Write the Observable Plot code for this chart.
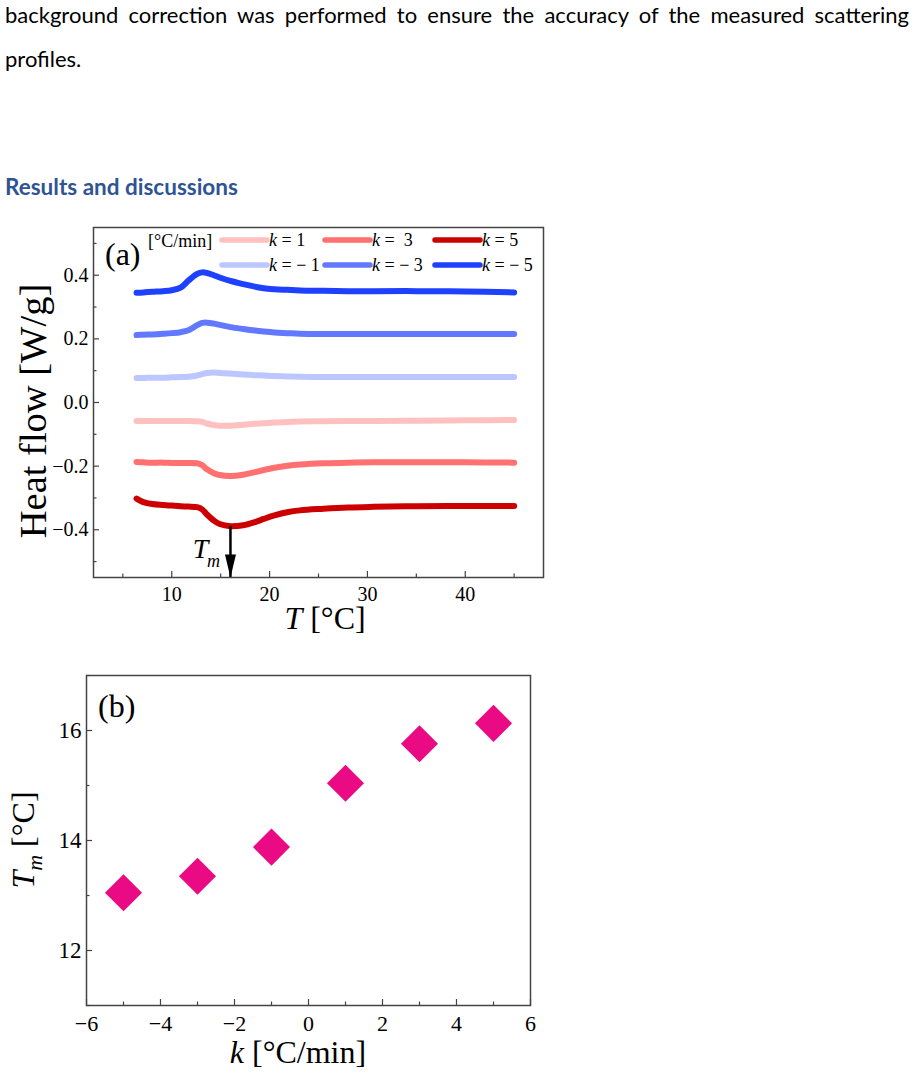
<!DOCTYPE html>
<html><head><meta charset="utf-8">
<script src="https://cdn.jsdelivr.net/npm/d3@7"></script>
<script src="https://cdn.jsdelivr.net/npm/@observablehq/plot@0.6"></script>
<style>
html,body{margin:0;padding:0;background:#fff;}
#page{position:relative;width:914px;height:1077px;overflow:hidden;}
.para{position:absolute;left:5px;width:904px;font-family:Lato,sans-serif;font-size:22px;color:#000;line-height:26px;}
#l1{top:2px;text-align:justify;text-align-last:justify;}
#l2{top:46px;}
#h{position:absolute;left:5px;top:174px;font-family:Lato,sans-serif;font-weight:bold;font-size:22.5px;color:#2F5496;line-height:26px;}
#ca{position:absolute;left:0;top:220px;}
#cb{position:absolute;left:0;top:660px;}
svg text{font-family:'Liberation Serif',serif;}
</style></head><body>
<div id="page">
<div class="para" id="l1">background correction was performed to ensure the accuracy of the measured scattering</div>
<div class="para" id="l2">profiles.</div>
<div id="h">Results and discussions</div>
<div id="ca"></div><div id="cb"></div>
</div>
<script>
// ---------- data: panel (a) ----------
const temps = [6.4, 7.1, 8.0, 9.1, 10.0, 10.9, 11.7, 12.6, 13.1, 13.6, 14.3, 14.9, 16.0, 17.3, 18.5, 19.4, 20.5, 21.8, 23.1, 25.5, 28.0, 30.6, 35.0, 40.0, 45.0];
const rates = [1, 3, 5, -1, -3, -5];
const rateSuffix = [" = 1", " =\u00a0 3", " = 5", " = \u2212 1", " = \u2212 3", " = \u2212 5"];
const rateColors = ["#ffc0c0", "#ff7070", "#cc0000", "#bcc6ff", "#6178ff", "#1e40ff"];
const hfK1  = [-0.058,-0.058,-0.058,-0.058,-0.058,-0.058,-0.058,-0.059,-0.061,-0.066,-0.071,-0.073,-0.073,-0.070,-0.067,-0.065,-0.063,-0.061,-0.060,-0.059,-0.058,-0.058,-0.057,-0.056,-0.055];
const hfK3  = [-0.187,-0.188,-0.189,-0.189,-0.190,-0.190,-0.190,-0.191,-0.197,-0.210,-0.222,-0.228,-0.231,-0.227,-0.219,-0.212,-0.205,-0.199,-0.195,-0.191,-0.189,-0.188,-0.188,-0.188,-0.189];
const hfK5  = [-0.302,-0.313,-0.319,-0.322,-0.324,-0.326,-0.327,-0.329,-0.336,-0.352,-0.371,-0.382,-0.389,-0.386,-0.376,-0.366,-0.355,-0.345,-0.339,-0.334,-0.330,-0.328,-0.326,-0.325,-0.325];
const hfKm1 = [0.077,0.077,0.078,0.078,0.079,0.080,0.081,0.085,0.089,0.093,0.094,0.093,0.091,0.088,0.086,0.085,0.083,0.082,0.081,0.080,0.080,0.080,0.080,0.080,0.080];
const hfKm3 = [0.212,0.213,0.214,0.216,0.218,0.221,0.227,0.243,0.250,0.251,0.248,0.244,0.237,0.231,0.226,0.223,0.220,0.218,0.216,0.215,0.215,0.215,0.215,0.215,0.215];
const hfKm5 = [0.345,0.346,0.348,0.350,0.353,0.361,0.383,0.404,0.409,0.407,0.400,0.393,0.382,0.372,0.364,0.359,0.356,0.354,0.352,0.351,0.350,0.350,0.350,0.349,0.346];
const heatFlow = [hfK1, hfK3, hfK5, hfKm1, hfKm3, hfKm5];
const tmArrow = [{T: 16, from: -0.39, to: -0.55}];
const xTicksA = [10, 20, 30, 40];
const xMinorA = [5, 15, 25, 35, 45];
const yTicksA = [-0.4, -0.2, 0.0, 0.2, 0.4];
const yMinorA = [-0.5, -0.3, -0.1, 0.1, 0.3, 0.5];

// ---------- data: panel (b) ----------
const kRates = [-5, -3, -1, 1, 3, 5];
const tmValues = [13.05, 13.35, 13.88, 15.04, 15.76, 16.13];
const xTicksB = [-6, -4, -2, 0, 2, 4, 6];
const xMinorB = [-5, -3, -1, 1, 3, 5];
const yTicksB = [12, 14, 16];
const yMinorB = [11, 13, 15, 17];

const frameColor = "#444";
const rows = [];
rates.forEach((k, i) => temps.forEach((T, j) => rows.push({k, T, v: heatFlow[i][j]})));

const arrowhead = {draw(ctx) { ctx.moveTo(0, 0); ctx.lineTo(-5.5, -23); ctx.lineTo(5.5, -23); ctx.closePath(); }};

// inward ticks drawn as short rules at the frame edge, labels from label-only axes
function xAxes(major, minor, frameH, fontSize, pad, fmt) {
  return [
    Plot.ruleX(major, {x: d => d, stroke: frameColor, strokeWidth: 1.2, insetTop: frameH - 6}),
    Plot.ruleX(minor, {x: d => d, stroke: frameColor, strokeWidth: 1.2, insetTop: frameH - 3.5}),
    Plot.axisX(major, {tickSize: 0, tickPadding: pad, fontSize, label: null, tickFormat: fmt})
  ];
}
function yAxes(major, minor, frameW, fontSize, pad, fmt) {
  return [
    Plot.ruleY(major, {y: d => d, stroke: frameColor, strokeWidth: 1.2, insetRight: frameW - 6}),
    Plot.ruleY(minor, {y: d => d, stroke: frameColor, strokeWidth: 1.2, insetRight: frameW - 3.5}),
    Plot.axisY(major, {tickSize: 0, tickPadding: pad, fontSize, label: null, tickFormat: fmt})
  ];
}

const A = {width: 560, height: 420, marginTop: 7, marginLeft: 93, marginRight: 17, marginBottom: 63};
const plotA = Plot.plot({
  ...A,
  x: {domain: [2, 48]}, y: {domain: [-0.55, 0.55]},
  color: {type: "ordinal", domain: rates, range: rateColors},
  style: {fontFamily: "'Liberation Serif', serif", fontSize: "20px", color: "#000", background: "transparent", overflow: "visible"},
  marks: [
    ...xAxes(xTicksA, xMinorA, A.height - A.marginTop - A.marginBottom, 20, 9, d3.format("d")),
    ...yAxes(yTicksA, yMinorA, A.width - A.marginLeft - A.marginRight, 20, 5, d3.format(".1f")),
    Plot.line(rows, {x: "T", y: "v", z: "k", stroke: "k", strokeWidth: 6, curve: "catmull-rom", strokeLinecap: "round", strokeLinejoin: "round"}),
    Plot.ruleX(tmArrow, {x: "T", y1: "from", y2: "to", stroke: "#000", strokeWidth: 2.5}),
    Plot.dot(tmArrow, {x: "T", y: "to", symbol: arrowhead, fill: "#000", r: 5}),
    Plot.text(tmArrow, {x: "T", y: "to", text: () => "T", fontStyle: "italic", fontSize: 28, lineAnchor: "bottom", textAnchor: "middle", dx: -30, dy: -20}),
    Plot.text(tmArrow, {x: "T", y: "to", text: () => "m", fontStyle: "italic", fontSize: 18, lineAnchor: "bottom", textAnchor: "middle", dx: -17, dy: -11}),
    Plot.frame({stroke: frameColor, strokeWidth: 1.5})
  ]
});
const svgA = d3.select(plotA);
svgA.append("text").attr("transform", "translate(46,191) rotate(-90)").attr("text-anchor", "middle").attr("font-size", 38.5).attr("fill", "#000").text("Heat flow [W/g]");
const tA = svgA.append("text").attr("x", 325).attr("y", 409).attr("text-anchor", "middle").attr("font-size", 32).attr("fill", "#000");
tA.append("tspan").attr("font-style", "italic").text("T");
tA.append("tspan").text(" [\u00b0C]");
svgA.append("text").attr("x", 105).attr("y", 45).attr("text-anchor", "start").attr("font-size", 32).attr("fill", "#000").text("(a)");
svgA.append("text").attr("x", 148).attr("y", 27).attr("text-anchor", "start").attr("font-size", 18).attr("fill", "#000").text("[\u00b0C/min]");
const colX = [222, 325, 435], rowY = [20, 45];
rates.forEach((k, i) => {
  const x = colX[i % 3], y = rowY[Math.floor(i / 3)];
  svgA.append("line").attr("x1", x).attr("x2", x + 45).attr("y1", y).attr("y2", y)
    .attr("stroke", rateColors[i]).attr("stroke-width", 5.5).attr("stroke-linecap", "round");
  const t = svgA.append("text").attr("x", x + 47).attr("y", y + 6).attr("text-anchor", "start").attr("font-size", 18).attr("fill", "#000").attr("xml:space", "preserve");
  t.append("tspan").attr("font-style", "italic").text("k");
  t.append("tspan").text(rateSuffix[i]);
});
document.getElementById("ca").appendChild(plotA);

const B = {width: 560, height: 417, marginTop: 15, marginLeft: 86, marginRight: 30, marginBottom: 72};
const plotB = Plot.plot({
  ...B,
  x: {domain: [-6, 6]}, y: {domain: [11, 17]},
  style: {fontFamily: "'Liberation Serif', serif", fontSize: "22px", color: "#000", background: "transparent", overflow: "visible"},
  marks: [
    ...xAxes(xTicksB, xMinorB, B.height - B.marginTop - B.marginBottom, 22, 10, d3.format("d")),
    ...yAxes(yTicksB, yMinorB, B.width - B.marginLeft - B.marginRight, 23, 5, d3.format("d")),
    Plot.dot(kRates, {x: d => d, y: (d, i) => tmValues[i], symbol: "diamond2", r: 16.7, fill: "#ea0a84"}),
    Plot.frame({stroke: frameColor, strokeWidth: 1.5})
  ]
});
const svgB = d3.select(plotB);
const yB = svgB.append("text").attr("transform", "translate(34,180) rotate(-90)").attr("text-anchor", "middle").attr("font-size", 32).attr("fill", "#000");
yB.append("tspan").attr("font-style", "italic").text("T");
yB.append("tspan").attr("font-style", "italic").attr("font-size", 22).attr("dy", 8).text("m");
yB.append("tspan").attr("dy", -8).text(" [\u00b0C]");
const xB = svgB.append("text").attr("x", 298).attr("y", 403).attr("text-anchor", "middle").attr("font-size", 32).attr("fill", "#000");
xB.append("tspan").attr("font-style", "italic").text("k");
xB.append("tspan").text(" [\u00b0C/min]");
svgB.append("text").attr("x", 98).attr("y", 57).attr("text-anchor", "start").attr("font-size", 32).attr("fill", "#000").text("(b)");
document.getElementById("cb").appendChild(plotB);
</script>
</body></html>
